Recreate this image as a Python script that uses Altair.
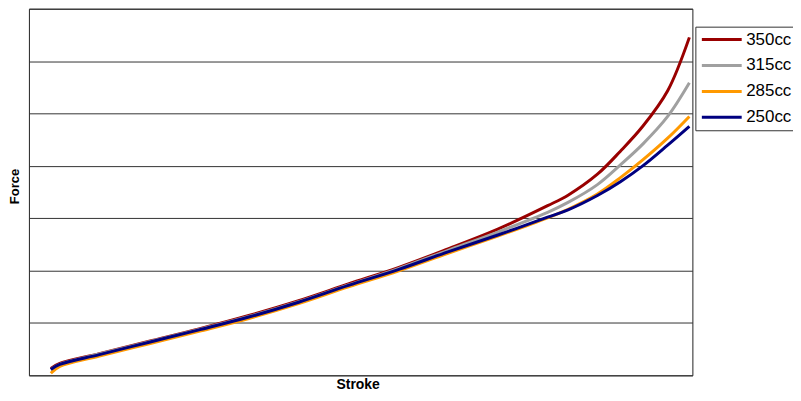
import altair as alt
import pandas as pd

# Stroke (% of travel) sample positions
stroke = [0, 1.4, 7.6, 15.4, 23.2, 31.0, 38.8, 46.6, 54.4, 62.2, 70.0,
          77.8, 81.0, 85.6, 89.2, 92.7, 96.6, 100]

force_350 = [0.132, 0.226, 0.415, 0.651, 0.887, 1.142, 1.425, 1.745, 2.057,
             2.415, 2.792, 3.240, 3.440, 3.840, 4.280, 4.755, 5.434, 6.453]
force_315 = [0.113, 0.208, 0.406, 0.642, 0.877, 1.123, 1.406, 1.726, 2.038,
             2.387, 2.736, 3.113, 3.302, 3.642, 4.019, 4.415, 4.943, 5.585]
force_285 = [0.038, 0.170, 0.368, 0.604, 0.840, 1.085, 1.368, 1.689, 1.991,
             2.330, 2.660, 3.009, 3.170, 3.462, 3.774, 4.113, 4.528, 4.943]
force_250 = [0.113, 0.208, 0.396, 0.632, 0.868, 1.113, 1.396, 1.717, 2.019,
             2.358, 2.679, 3.019, 3.160, 3.434, 3.698, 4.000, 4.396, 4.755]

series = ["350cc", "315cc", "285cc", "250cc"]
colors = ["#990000", "#A0A0A0", "#FF9900", "#000080"]
grid_values = [0, 1, 2, 3, 4, 5, 6, 7]

rows = []
for name, vals in zip(series, [force_350, force_315, force_285, force_250]):
    for s, f in zip(stroke, vals):
        rows.append({"Stroke": s, "Force": f, "Series": name})
df = pd.DataFrame(rows)

FONT = "Liberation Sans"

base = alt.Chart(df).mark_line(strokeWidth=3, interpolate="catmull-rom").encode(
    x=alt.X("Stroke:Q",
            scale=alt.Scale(domain=[-3.43, 100.47], nice=False, zero=False),
            axis=alt.Axis(title="Stroke", labels=False, ticks=False, grid=False,
                          domain=False, titleFont=FONT, titleFontSize=14,
                          titleFontWeight="bold", titleColor="#000",
                          titlePadding=2, titleX=330)),
    y=alt.Y("Force:Q",
            scale=alt.Scale(domain=[0, 7], nice=False, zero=True),
            axis=alt.Axis(title="Force", values=grid_values, labels=False,
                          ticks=False, domain=False, grid=True,
                          gridColor="#333", gridOpacity=1, gridWidth=1,
                          titleFont=FONT, titleFontSize=13,
                          titleFontWeight="bold", titleColor="#000",
                          titlePadding=7, titleY=178)),
    color=alt.Color("Series:N",
                    scale=alt.Scale(domain=series, range=colors),
                    legend=alt.Legend(title=None, orient="none",
                                      legendX=669, legendY=18,
                                      padding=3, strokeColor="#333",
                                      fillColor="#fff",
                                      symbolType="stroke", symbolSize=1600,
                                      symbolStrokeWidth=3, clipHeight=20,
                                      rowPadding=6, labelFontSize=17,
                                      labelFont=FONT, labelColor="#000",
                                      symbolOffset=2, labelOffset=3)),
)

layers = [base.transform_filter(alt.datum.Series == s) for s in series]

chart = alt.layer(*layers).properties(
    width=666, height=368,
    padding={"left": 21, "top": 0, "right": 101, "bottom": 14},
    autosize=alt.AutoSizeParams(type="none"),
).configure_view(stroke="#222", strokeWidth=1)

chart.save("out.html", embed_options={"renderer": "svg", "actions": False})
